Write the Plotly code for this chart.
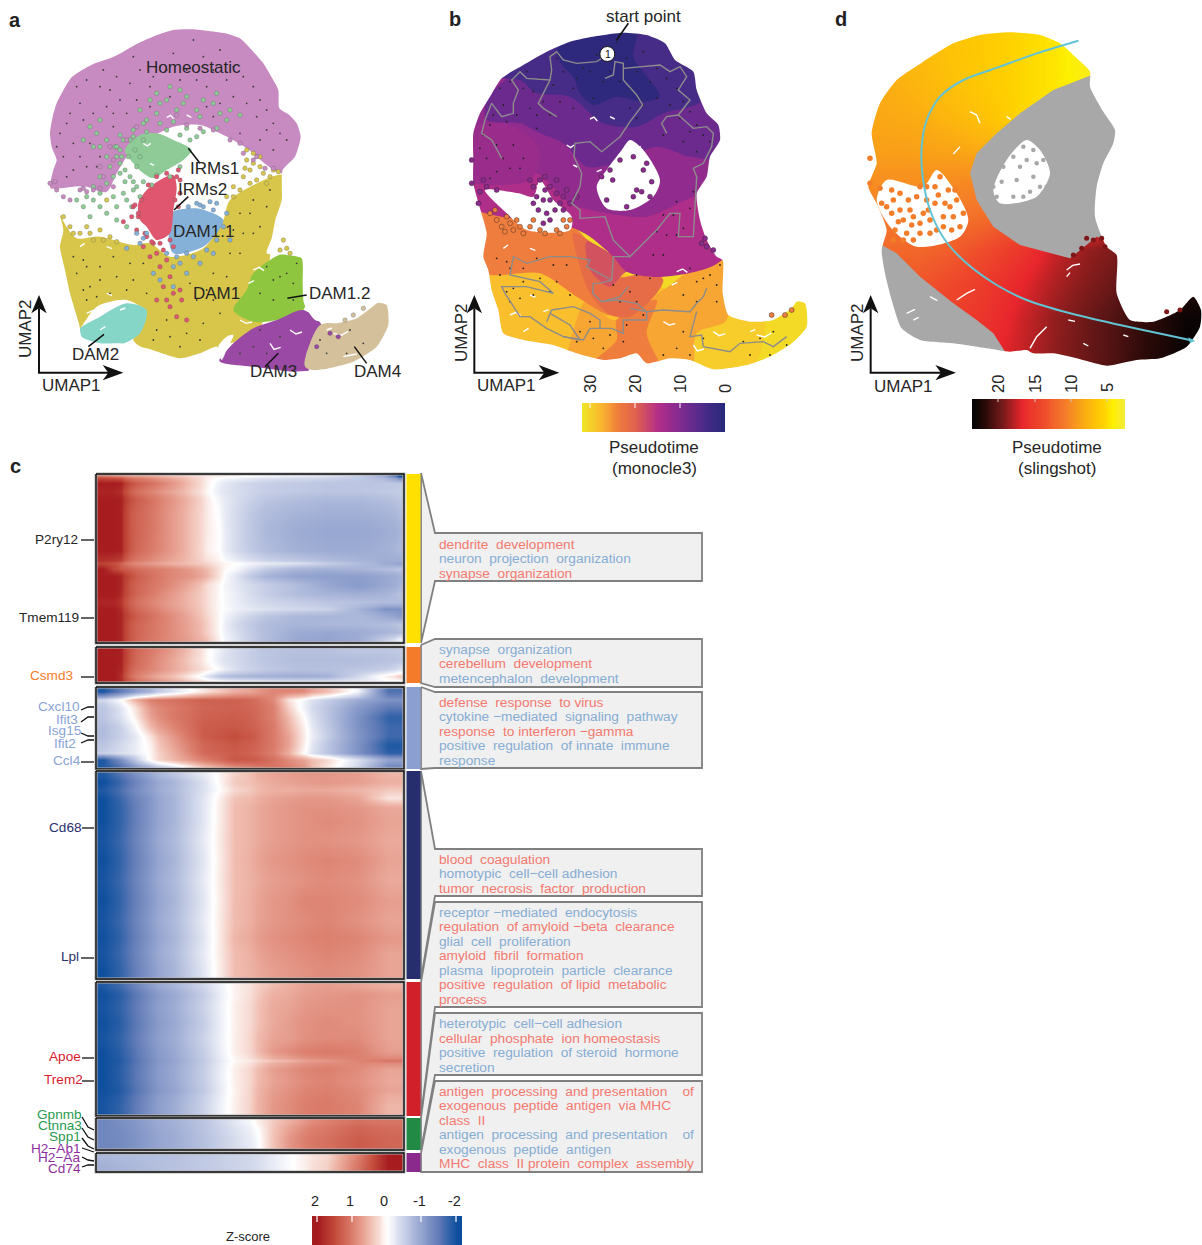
import plotly.graph_objects as go
from plotly.colors import sample_colorscale
import numpy as np

W, H = 1202, 1245
FONT = "Liberation Sans"
INK = "#262626"

# ---------------- UMAP silhouettes (panel units) ----------------
SIL_A = [(150,400),(158,350),(170,310),(195,262),(215,232),(250,208),(285,190),(330,175),(370,155),(405,135),(440,118),(480,102),(520,90),(570,88),(620,92),(675,100),(720,115),(755,150),(790,190),(815,232),(835,270),(838,325),(868,345),(890,370),(902,410),(885,470),(848,510),(845,600),(826,660),(815,715),(800,760),(860,765),(905,775),(908,850),(912,910),(945,960),(1010,970),(1070,955),(1105,930),(1135,908),(1160,915),(1165,975),(1130,1040),(1060,1085),(970,1108),(880,1115),(760,1100),(660,1085),(652,1040),(600,1060),(540,1075),(440,1045),(360,1030),(300,1030),(245,1010),(238,975),(210,880),(195,810),(180,740),(190,690),(170,615),(150,560),(160,510),(170,480),(155,440)]
SIL_B = [(130,400),(150,340),(180,290),(215,235),(280,195),(350,155),(420,125),(500,108),(580,98),(650,105),(705,130),(735,180),(790,215),(800,270),(830,340),(865,375),(870,420),(840,470),(830,530),(800,580),(810,660),(830,720),(860,770),(878,780),(878,880),(895,945),(960,965),(1030,960),(1085,925),(1100,905),(1125,910),(1130,980),(1085,1030),(1020,1070),(950,1095),(850,1108),(780,1080),(720,1075),(650,1090),(620,1060),(570,1075),(520,1080),(440,1060),(370,1035),(280,1020),(220,1000),(205,930),(185,870),(175,810),(160,770),(170,700),(150,625),(130,550),(130,480)]
SIL_D = [(155,400),(180,310),(230,240),(310,185),(400,130),(480,105),(570,97),(660,105),(720,130),(770,175),(810,215),(810,260),(850,335),(885,390),(880,430),(850,490),(830,560),(825,650),(860,740),(890,765),(890,880),(930,960),(1000,965),(1080,930),(1120,890),(1143,930),(1140,980),(1100,1040),(1020,1075),(950,1080),(860,1097),(770,1075),(700,1060),(640,1060),(620,1050),(570,1055),(500,1045),(400,1030),(300,1020),(245,985),(215,900),(195,820),(185,750),(200,690),(170,610),(145,560),(170,490)]

HOLES_A = [[(540,620),(545,530),(570,470),(610,420),(640,410),(670,470),(700,500),(720,540),(690,580),(620,610)],
           [(190,570),(250,620),(310,690),(400,730),(430,690),(390,640),(370,590),(350,540),(320,580),(260,560)],
           [(655,1040),(680,1010),(700,1005),(680,1050),(665,1080)]]
HOLES_B = [[(500,560),(530,510),(575,450),(600,420),(640,450),(690,540),(670,590),(600,630),(530,625)],
           [(165,570),(230,640),(290,690),(420,690),(425,650),(370,600),(330,540),(310,590),(265,580)]]
HOLES_D = [[(520,570),(560,480),(620,420),(660,450),(690,520),(650,590),(540,610)],
           [(200,540),(170,600),(210,680),(290,740),(420,710),(445,660),(410,580),(350,510),(310,560)]]

# ---------------- Panel a clusters ----------------
CL_NAMES = ["Homeostatic","DAM1","IRMs1","DAM1.1","IRMs2","DAM2","DAM1.2","DAM3","DAM4"]
CL_COLORS = ["#c88bc1","#d8c64a","#8ecb97","#85b0d8","#e0566e","#86d6c8","#8fc63f","#9a4aa5","#d4c19c"]
CL_POLYS = [
 [(140,400),(165,300),(210,225),(285,180),(370,145),(440,110),(520,80),(620,85),(725,105),(795,185),(840,265),(845,320),(895,365),(910,410),(890,475),(845,520),(800,495),(740,445),(660,400),(600,375),(520,380),(440,420),(395,450),(350,520),(320,575),(240,560),(140,560)],
 [(160,610),(200,680),(230,715),(300,710),(400,735),(450,730),(510,770),(610,745),(670,660),(690,600),(850,525),(850,600),(825,680),(810,770),(800,900),(770,1010),(690,1030),(650,1045),(540,1085),(440,1050),(400,1020),(440,940),(380,900),(290,920),(235,990),(230,975),(200,880),(170,740),(185,690)],
 [(375,450),(420,405),(470,400),(520,420),(575,450),(550,480),(500,510),(460,535),(430,520),(400,490)],
 [(510,640),(590,625),(670,660),(650,700),(610,740),(520,760),(505,700)],
 [(415,610),(440,570),(480,540),(520,525),(530,560),(520,630),(510,700),(470,720),(440,680),(420,660)],
 [(235,990),(300,950),(380,910),(440,930),(420,1000),(360,1035),(300,1035),(240,1015)],
 [(760,820),(850,760),(912,770),(918,900),(910,930),(830,960),(760,965),(700,930),(740,870)],
 [(760,985),(830,960),(910,930),(970,985),(920,1060),(925,1120),(880,1120),(760,1105),(655,1090),(690,1040)],
 [(960,975),(1010,965),(1070,950),(1130,905),(1165,910),(1170,975),(1135,1040),(1060,1090),(970,1113),(915,1100),(930,1030)],
]
DOTS_A = {
 "#8ecb97":[(500,300),(560,290),(610,300),(640,310),(590,330),(530,330),(470,340),(430,370),(400,390),(370,420),(690,330),(720,345),(660,340),(450,300),(420,330),(320,420),(290,400),(280,440),(270,380),(350,470),(330,500),(360,520),(390,530),(410,560),(370,580),(340,590),(280,600),(250,620),(300,620),(320,640),(350,620),(300,580),(260,590),(270,650),(230,600),(380,600),(395,620),(350,660),(380,680),(550,310),(480,310),(600,350),(540,270),(430,420),(360,450),(300,360),(250,420),(470,280),(510,260),(650,280),
   (345,440),(360,490),(340,530),(375,545),(400,545),(360,405),(390,420),(405,450),(420,470),(385,470),(410,500),(365,470),(375,510),(440,360),(480,370),(520,365),(560,385),(590,410),(610,395),(440,395),(400,410),(455,555),(430,545),(420,590),(400,570),(350,440),(320,470),(300,440),(320,550),(300,530),(280,560),(500,390),(540,405),(570,420),(470,525),(510,530),(540,500),(650,385),(680,360)],
 "#e0566e":[(370,665),(395,650),(410,690),(430,740),(450,770),(480,800),(510,830),(490,860),(520,880),(540,870),(510,920),(530,950),(560,960),(470,900),(500,780),(460,730),(540,540),(400,620),(415,650),(405,615),(525,600),(535,510),(490,750),(470,760),(440,710),(500,900),(545,900),(425,600),(445,555),(470,530),(500,520),(530,530),(435,700),(455,725),(480,730),(510,720),(520,740),(415,640),(540,580),(535,620)],
 "#85b0d8":[(430,715),(440,700),(420,730),(540,790),(580,770),(520,800),(480,840),(610,620),(650,610),(690,720),(560,820),(640,760),(380,745),(460,820),(680,640),(630,605),(590,610),(410,700),(520,860),(600,790),(670,680),(650,720),(620,750),(560,760),(530,770),(500,760),(640,630),(600,615),(565,620)],
 "#d8c64a":[(740,480),(760,460),(780,470),(750,510),(730,530),(790,520),(820,510),(800,550),(700,590),(720,570),(300,690),(260,680),(240,700),(210,680),(330,710),(280,720),(350,725),(850,720),(860,745),(870,760),(840,750),(320,600),(740,450),(760,490),(780,500),(735,505),(770,540),(810,530),(750,550),(835,515),(700,560),(680,590),(270,700),(310,720),(220,700),(190,650)],
 "#c88bc1":[(150,550),(170,570),(210,600),(190,590),(240,570),(165,545),(340,560),(300,565),(330,440),(300,500),(310,530),(260,575),(280,570),(560,375),(600,385),(640,390),(690,420),(720,430),(770,470),(820,505),(340,480),(380,420),(410,380),(530,345),(730,460),(760,480),(795,505),(250,565)],
 "#d4c19c":[(1060,945),(1090,925),(1035,960)],
 "#9a4aa5":[(990,1000),(1015,1010),(950,1040)],
}
# dark specks, panel a units; b reuses them through the axis offset
SPECKS = [(300,260),(350,230),(420,210),(520,160),(610,170),(700,200),(760,260),(800,330),(240,310),(200,370),(280,340),(360,300),(450,260),(540,240),(620,260),(700,290),(770,350),(840,400),(820,450),(220,430),(190,470),(260,500),(300,470),(220,510),(340,380),(410,300),(640,350),(720,400),(780,420),(230,260),(480,200),(660,150),(580,120),(400,170),(310,210),(250,780),(300,800),(340,770),(390,790),(230,820),(270,860),(330,880),(400,840),(440,880),(510,1010),(560,1000),(610,970),(640,900),(680,830),(720,760),(760,700),(800,620),(780,680),(700,690),(640,820),(590,900),(470,990),(500,960),(260,900),(960,1020),(1010,1010),(1050,990),(1090,1030),(1040,1060),(980,1060),(800,1060),(760,1040),(840,1010),(720,1060),(780,990),(860,820),(800,800),(780,880),(820,900),(880,850),
 (260,240),(330,270),(390,250),(460,230),(500,210),(560,210),(640,210),(680,240),(730,230),(780,300),(820,370),(860,420),(180,400),(170,440),(210,340),(250,360),(320,320),(380,340),(450,320),(510,290),(590,240),(660,310),(740,310),(800,390),(270,430),(240,470),(200,530),(290,500),(340,340),(620,320),(260,800),(220,770),(300,840),(350,830),(380,870),(250,870),(290,890),(430,790),(570,850),(620,870),(660,940),(600,1020),(540,1040),(460,1020),(730,700),(690,760),(750,640),(810,570),(760,600),(720,640),(840,830),(880,900),(820,840),(890,790)]
GAPS = [[(430,430),(442,438),(452,430)],[(500,352),(512,346),(522,358)],[(560,345),(574,352)],[(640,440),(652,434)],[(450,490),(462,496)],[(520,510),(535,504)],[(340,555),(352,546)],[(240,740),(254,730)],[(320,740),(336,746)],[(260,940),(278,932),(292,942)],[(320,880),(336,886)],[(760,810),(778,802),(792,812)],[(745,850),(762,842)],[(720,960),(738,970),(756,966)],[(870,990),(888,1002),(906,996)],[(810,1030),(822,1048),(842,1042)],[(1000,1000),(1024,1006),(1044,994)],[(1030,1070),(1050,1066),(1070,1062)],[(980,990),(996,984)],[(300,990),(316,980)],[(360,930),(376,924)]]

# ---------------- Panel b: monocle3 pseudotime regions (painted in order) ----------------
BAND_T = [31, 29.8, 28.5, 26.5, 24, 24, 21.5, 18.5, 14.5, 11.5, 12.5, 8, 4, 1]
BAND_POLYS = [
 [(80,60),(1150,60),(1150,1130),(80,1130)],
 [(790,930),(1000,930),(960,1120),(790,1120)],
 [(80,800),(720,880),(700,1125),(80,1125)],
 [(470,900),(550,960),(700,870),(880,750),(890,960),(800,1000),(780,1125),(400,1125),(420,1030)],
 [(560,960),(680,900),(650,1000),(700,1125),(620,1110),(480,1100),(560,1020)],
 [(90,610),(430,680),(500,770),(520,880),(540,945),(440,890),(330,820),(180,825),(90,790)],
 [(430,700),(500,740),(560,830),(670,815),(700,840),(680,880),(600,950),(540,945),(480,880),(450,800)],
 [(470,725),(560,770),(700,830),(590,815),(540,860),(480,810)],
 [(90,70),(890,70),(885,770),(700,830),(590,815),(550,770),(480,710),(420,680),(90,600)],
 [(90,70),(890,70),(885,560),(790,590),(650,650),(530,640),(420,610),(320,520),(90,520)],
 [(110,390),(220,370),(310,420),(330,470),(300,540),(110,540)],
 [(170,300),(300,190),(890,70),(885,470),(780,470),(680,440),(560,490),(470,500),(400,430),(330,400),(270,370),(170,360)],
 [(200,230),(350,140),(500,80),(745,80),(815,300),(700,340),(620,380),(520,370),(420,290),(320,280),(270,240)],
 [(380,150),(470,95),(620,85),(610,170),(640,215),(690,290),(640,305),(560,290),(490,315),(450,280),(430,230),(400,200)],
]
PATHS_B = [
 [(530,165),(500,185),(440,190),(400,180),(380,155),(360,170),(365,210),(360,240),(340,280),(325,310),(340,325),(380,350)],
 [(360,240),(290,235),(270,215),(245,240),(265,270),(250,310),(250,340),(215,350),(185,310),(165,360),(155,400),(185,420),(215,475)],
 [(525,235),(550,225),(555,185),(580,190),(580,240),(620,285),(638,315),(600,365),(570,410),(515,455),(480,425),(435,430),(432,470),(455,520),(450,560),(425,610),(450,630),(450,655),(525,650),(550,720),(600,770),(630,740),(680,690),(720,640),(750,640),(745,710),(790,710),(800,530),(790,505),(820,490),(845,440),(850,400),(830,380),(790,385),(745,345),(780,300),(745,270),(770,230),(750,200),(720,215),(690,195),(580,205)],
 [(745,345),(710,350),(695,370),(710,400)],
 [(600,770),(550,770),(545,840),(510,850),(490,850),(488,880),(515,905),(570,890),(595,860)],
 [(515,905),(560,900),(620,910),(650,935),(700,930),(780,935),(800,910),(820,890),(830,865)],
 [(600,925),(650,935),(650,960),(580,960),(580,1000),(545,985),(480,985),(460,1020),(400,1010),(350,985),(300,950),(270,950),(225,880),(215,860),(290,860),(370,880),(330,845),(240,825),(250,770),(290,790),(360,770),(420,770),(480,780),(470,800),(545,840)],
 [(350,965),(365,930),(430,920),(480,940),(510,960),(510,985)],
 [(360,940),(420,975),(450,1020),(400,1010)],
 [(800,935),(780,1010),(815,1005),(820,1040),(900,1055),(930,1030),(1000,1025),(1030,1040),(1070,1010)],
]
DOTS_B_PURPLE = [(125,480),(125,550),(150,575),(145,610),(330,540),(345,570),(360,560),(380,540),(400,590),(340,600),(320,590),(350,640),(375,630),(400,630),(325,630),(390,610),(340,670),(540,510),(570,480),(515,530),(548,540),(620,570),(635,575),(665,545),(610,590),(640,510),(825,715),(830,740),(850,750),(815,730),(160,540),(300,540),(420,610),(360,600),(380,580),(345,530),(310,560),(360,660),(310,610),(170,560),(200,570),(410,570),(440,590),(610,470),(650,490),(590,620),(530,600),(660,590)]
DOTS_B_ORANGE = [(200,660),(230,650),(260,660),(300,680),(330,690),(250,690),(280,700),(225,695),(380,690),(410,680),(420,660),(400,660),(1025,945),(1065,945),(1085,930),(215,680),(270,680),(310,660),(345,700),(390,700),(240,670),(180,640),(195,630)]

# ---------------- Panel d: slingshot pseudotime estimated on a coarse grid ----------------
D_X_EDGES = [130,250,350,450,550,650,750,850,950,1050,1150]
D_Y_EDGES = [85,200,300,400,500,600,700,800,900,1000,1120]
D_TIME = [
 [7.6,7.0,6.4,5.8,5.2,4.5,3.2,2.6,2.4,2.4],
 [8.0,7.4,6.6,5.9,5.2,4.5,3.4,2.6,2.4,2.4],
 [8.3,8.0,7.3,6.4,5.2,4.6,4.0,3.0,2.6,2.4],
 [8.8,8.7,8.5,8.0,7.0,6.0,5.0,4.0,3.0,3.0],
 [9.8,9.8,10.0,10.3,10.5,10.5,10.5,10.5,11,11],
 [11.0,11.0,11.2,11.8,13.0,14.5,15.5,17,18,19],
 [12.0,12.2,12.8,14.0,15.5,17.5,18.8,19.6,20.5,21],
 [13.0,13.3,14.2,15.3,16.8,18.2,19.3,20.3,21.0,22.0],
 [14.0,14.5,15.0,15.8,17.4,18.8,20.0,21.0,22.0,23.5],
 [15.0,15.2,15.6,16.5,17.6,18.9,20.1,21.1,22.3,23.6],
]
GRAY_D = [
 [(815,225),(700,270),(600,340),(530,400),(470,460),(450,520),(470,600),(520,680),(600,735),(750,775),(830,710),(900,740),(900,300),(830,200)],
 [(140,735),(185,735),(230,760),(300,830),(400,910),(470,960),(520,1000),(565,1070),(400,1100),(140,1100)],
]
CURVE_D = [(775,122),(650,160),(540,200),(430,240),(360,290),(320,360),(305,440),(308,530),(330,630),(375,720),(440,790),(530,855),(620,900),(750,940),(900,975),(1040,1005),(1120,1022)]
DOTS_D_ORANGE = [(150,475),(150,550),(180,565),(185,610),(215,640),(240,630),(265,600),(290,590),(250,660),(280,650),(310,640),(225,690),(260,700),(300,700),(330,660),(370,650),(345,610),(390,620),(410,600),(345,560),(360,530),(385,570),(430,640),(420,680),(395,690),(350,690),(220,600),(270,630),(300,560),(320,600),(240,580),(215,570),(200,620),(235,665),(275,675),(300,670),(330,700),(370,680),(375,610),(400,650),(355,585),(320,560),(280,720),(250,720),(220,720),(325,630),(405,570)]
DOTS_D_GRAY = [(550,500),(580,470),(610,440),(640,450),(520,560),(530,590),(590,540),(640,530),(670,480),(610,590),(700,520),(560,620),(590,430),(620,480),(650,490),(580,590),(545,545),(680,560),(660,560),(630,575),(600,500)]
DOTS_D_DARK = [(800,715),(820,720),(845,715),(855,740),(785,745),(760,765),(1040,935),(1080,930)]
GAPS_D = [[(740,810),(758,796),(780,792)],[(740,830),(750,818)],[(630,1045),(650,1010),(680,980)],[(745,960),(765,964)],[(410,900),(440,880),(465,868)],[(910,1005),(925,1010)],[(790,1030),(805,1038)],[(450,335),(470,345),(480,370)],[(560,350),(572,358)],[(420,440),(400,462)],[(260,940),(285,928)],[(330,890),(352,902)],[(280,960),(296,952)]]

# ---------------- Panel c: heatmap blocks ----------------
COL_DOWN = [0,.04,.07,.09,.13,.2,.28,.34,.38,.42,.5,.6,.7,.8,.9,.97,1]
COL_UP = [0,.05,.1,.15,.2,.3,.4,.5,.55,.6,.65,.7,.8,.9,1]
BLOCK_X = (96, 404)

B1_Y = [474,478,488,495,505,520,540,560,566,572,580,590,598,606,612,620,628,636,643]
B1 = [
 [1.1,1.0,.9,.8,.7,.5,.3,.15,.1,.05,-.1,-.2,-.3,-.5,-.9,-2.0],
 [2.0,2.0,1.95,1.5,1.2,.85,.45,.1,-.15,-.35,-.5,-.55,-.6,-.6,-.6,-.55],
 [1.9,1.9,1.8,1.3,1.0,.7,.35,.05,-.2,-.35,-.5,-.55,-.6,-.6,-.55,-.5],
 [2.0,2.0,1.95,1.5,1.2,.85,.5,.15,-.1,-.35,-.6,-.7,-.75,-.75,-.7,-.6],
 [2.0,2.0,1.95,1.4,1.15,.8,.45,.15,-.05,-.4,-.7,-.8,-.85,-.85,-.8,-.7],
 [2.0,2.0,1.95,1.4,1.15,.8,.45,.15,0,-.4,-.75,-.9,-.95,-.95,-.9,-.8],
 [2.0,2.0,1.95,1.4,1.1,.8,.45,.12,0,-.4,-.7,-.85,-.9,-.9,-.85,-.75],
 [1.6,1.5,1.3,1.0,.8,.6,.45,.3,.15,0,-.2,-.3,-.5,-.7,-.9,-1.0],
 [2.0,1.6,1.4,1.3,1.1,.95,.75,.5,.2,-.1,-.55,-.8,-.85,-.8,-.7,-.6],
 [2.0,2.0,1.9,1.5,1.2,.95,.8,.55,.2,-.3,-.8,-1.0,-1.05,-1.05,-.95,-.85],
 [2.0,2.0,1.9,1.4,1.15,.9,.6,.25,.05,-.25,-.5,-.7,-.95,-1.1,-.95,-.8],
 [2.0,2.0,1.85,1.4,1.1,.8,.5,.25,.05,-.2,-.5,-.7,-.8,-.85,-.8,-.65],
 [1.9,1.9,1.7,1.3,1.0,.75,.5,.25,.05,-.2,-.4,-.5,-.6,-.65,-.7,-.7],
 [2.0,2.0,1.85,1.4,1.1,.8,.55,.25,.05,-.15,-.3,-.4,-.45,-.8,-1.2,-1.2],
 [2.0,2.0,1.9,1.5,1.2,.9,.6,.3,.05,-.3,-.6,-.75,-.8,-.75,-.9,-1.1],
 [2.0,2.0,1.9,1.4,1.15,.9,.65,.35,.05,-.4,-.7,-.8,-.75,-.75,-.7,-.6],
 [2.0,2.0,1.9,1.4,1.15,.9,.65,.35,.05,-.35,-.7,-.9,-.95,-.9,-.8,-.7],
 [2.0,2.0,1.9,1.4,1.1,.9,.7,.45,.1,-.3,-.7,-.95,-1.0,-.9,-.5,-.1],
]
B2_Y = [647,655,665,673,679,683]
B2 = [
 [2.0,2.0,1.95,1.4,1.1,.8,.4,.05,-.15,-.4,-.6,-.65,-.65,-.6,-.6,-.55],
 [2.0,2.0,1.95,1.4,1.05,.7,.35,.05,-.2,-.4,-.6,-.7,-.7,-.7,-.65,-.6],
 [2.0,2.0,1.9,1.3,1.0,.7,.4,.15,-.05,-.35,-.55,-.65,-.65,-.6,-.5,-.3],
 [2.0,2.0,1.8,1.2,.8,.5,.1,-.3,-.6,-.75,-.85,-.9,-.85,-.4,.1,.4],
 [2.0,2.0,1.9,1.4,1.0,.7,.4,.2,.05,-.1,-.2,-.25,-.25,-.2,-.1,-.05],
]
B3_Y = [687,696,703,712,722,732,740,750,756,763,769]
B3 = [
 [-1.9,-1.5,-1.1,-.8,-.3,.2,.6,.8,.95,.95,.9,.5,-.1,-1.6],
 [-.4,-.05,.6,1.0,1.15,1.3,1.3,1.15,.9,.2,-.1,-.5,-.9,-1.2],
 [-.6,-.3,.2,.8,1.05,1.25,1.3,1.2,1.0,.35,-.15,-.6,-1.1,-1.5],
 [-.6,-.35,.1,.7,1.05,1.3,1.35,1.2,1.0,.5,.0,-.6,-1.2,-1.8],
 [-.7,-.5,-.1,.5,.95,1.35,1.4,1.25,1.05,.6,.1,-.55,-1.2,-1.7],
 [-.7,-.5,-.25,.2,.8,1.35,1.5,1.3,1.05,.7,.15,-.5,-1.15,-1.7],
 [-.6,-.4,-.2,.1,.7,1.25,1.4,1.25,1.05,.7,.1,-.6,-1.2,-1.9],
 [-.5,-.35,-.2,.05,.6,1.2,1.35,1.2,1.0,.6,.0,-.6,-1.2,-1.8],
 [-1.9,-1.3,-.6,.05,.55,1.0,1.4,1.35,1.15,.9,.7,.3,-.3,-1.0],
 [-1.9,-1.6,-1.1,-.7,-.2,.5,.95,1.1,1.1,1.0,.8,.2,-.4,-1.3],
]
B4_Y = [771,778,786,794,802,812,830,850,870,890,910,930,945,960,979]
B4 = [
 [-1.9,-1.6,-1.25,-.95,-.6,-.2,.35,.6,.7,.75,.8,.8,.75,.55],
 [-2.0,-1.75,-1.4,-1.1,-.8,-.3,.4,.55,.65,.7,.75,.8,.75,.6],
 [-1.9,-1.65,-1.3,-1.05,-.75,-.3,.3,.5,.6,.6,.65,.65,.55,.4],
 [-2.0,-1.75,-1.4,-1.15,-.8,-.25,.45,.6,.7,.75,.8,.8,.7,.2],
 [-2.0,-1.8,-1.45,-1.15,-.8,-.25,.5,.65,.75,.8,.85,.85,.8,.65],
 [-2.0,-1.8,-1.45,-1.15,-.8,-.25,.5,.65,.75,.8,.85,.9,.85,.7],
 [-1.95,-1.75,-1.4,-1.1,-.75,-.2,.5,.65,.75,.8,.85,.85,.8,.65],
 [-2.0,-1.8,-1.45,-1.15,-.8,-.25,.5,.7,.8,.85,.9,.95,.9,.7],
 [-1.95,-1.75,-1.4,-1.1,-.75,-.2,.5,.65,.75,.8,.85,.9,.85,.65],
 [-2.0,-1.8,-1.45,-1.15,-.8,-.25,.5,.7,.8,.85,.95,.95,.9,.75],
 [-1.95,-1.75,-1.4,-1.1,-.75,-.2,.5,.7,.8,.85,.9,.95,.85,.7],
 [-2.0,-1.8,-1.45,-1.15,-.8,-.25,.55,.75,.85,.9,.95,1.0,.95,.8],
 [-1.95,-1.75,-1.4,-1.1,-.75,-.2,.5,.7,.8,.85,.9,.95,.9,.7],
 [-2.0,-1.8,-1.45,-1.15,-.8,-.25,.5,.65,.75,.8,.85,.9,.85,.7],
]
B5_Y = [982,990,1000,1015,1030,1045,1058,1063,1075,1085,1095,1116]
B5 = [
 [-1.9,-1.7,-1.4,-1.1,-.8,-.4,.1,.35,.5,.6,.7,.75,.7,.6],
 [-2.0,-1.85,-1.55,-1.25,-.95,-.5,.1,.4,.6,.65,.75,.8,.85,.75],
 [-1.95,-1.8,-1.5,-1.2,-.9,-.45,.12,.45,.65,.7,.8,.85,.85,.7],
 [-2.0,-1.85,-1.55,-1.25,-.95,-.5,.12,.45,.65,.75,.85,.9,.85,.7],
 [-1.95,-1.8,-1.5,-1.2,-.9,-.45,.12,.5,.7,.75,.85,.9,.9,.7],
 [-2.0,-1.85,-1.55,-1.25,-.95,-.5,.12,.5,.8,.9,1.0,1.05,1.0,.75],
 [-2.0,-1.9,-1.6,-1.3,-1.0,-.55,.05,.25,.45,.55,.7,.8,.95,1.1],
 [-2.0,-1.85,-1.55,-1.25,-.95,-.5,.12,.5,.75,.85,.95,1.0,.9,.7],
 [-2.0,-1.85,-1.55,-1.25,-.95,-.5,.12,.5,.7,.8,.9,.95,.85,.65],
 [-2.0,-1.9,-1.6,-1.3,-1.0,-.55,.1,.55,.75,.85,.95,1.0,.9,.7],
 [-1.95,-1.8,-1.5,-1.2,-.9,-.45,.12,.55,.8,.9,1.0,1.05,.95,.55],
]
B6_Y = [1118,1127,1150]
B6 = [
 [-1.35,-1.25,-1.15,-1.0,-.85,-.6,-.25,.1,.4,.6,.8,1.0,1.15,1.1],
 [-1.35,-1.3,-1.2,-1.05,-.9,-.65,-.35,-.05,.45,.8,1.0,1.15,1.35,1.25],
]
B7_Y = [1153,1161,1172]
B7 = [
 [-.75,-.72,-.7,-.68,-.65,-.55,-.45,-.35,-.2,-.05,.12,.3,1.0,2.0],
 [-.85,-.8,-.75,-.7,-.65,-.55,-.45,-.35,-.2,-.05,.12,.35,1.1,2.0],
]
BAR_COLORS = ["#ffe000","#f47b2a","#8b9fd0","#262e6d","#d2202a","#218a44","#8a2a8c"]

GENES = [("P2ry12",78,539,"#262626",[(81,540),(94,540)]),
 ("Tmem119",79,617,"#262626",[(81,618),(94,618)]),
 ("Csmd3",73,675,"#f47b2a",[(81,677),(94,677)]),
 ("Cxcl10",80,706,"#8ba3d6",[(81,710),(88,707),(94,707)]),
 ("Ifit3",78,719,"#8ba3d6",[(81,722),(88,717),(94,717)]),
 ("Isg15",81,730,"#8ba3d6",[(81,733),(88,736),(94,736)]),
 ("Ifit2",76,743,"#8ba3d6",[(81,743),(88,740),(94,740)]),
 ("Ccl4",81,760,"#8ba3d6",[(81,762),(94,762)]),
 ("Cd68",82,827,"#2a2f6e",[(82,828),(94,828)]),
 ("Lpl",79,956,"#2a2f6e",[(81,958),(94,958)]),
 ("Apoe",81,1056,"#d8202e",[(82,1058),(94,1058)]),
 ("Trem2",83,1079,"#d8202e",[(82,1081),(94,1081)]),
 ("Gpnmb",82,1114,"#2a9a50",[(82,1117),(88,1127),(94,1130)]),
 ("Ctnna3",82,1125,"#2a9a50",[(82,1128),(88,1137),(94,1140)]),
 ("Spp1",81,1136,"#2a9a50",[(82,1138),(88,1146),(94,1149)]),
 ("H2\u2212Ab1",81,1148,"#8e2f9e",[(82,1148),(88,1150),(94,1152)]),
 ("H2\u2212Aa",80,1157,"#8e2f9e",[(82,1157),(88,1160),(94,1161)]),
 ("Cd74",81,1168,"#8e2f9e",[(82,1167),(88,1165),(94,1165)])]

RED, BLUE = "#f4796f", "#86add4"
BOXES = [
 ([(421,473),(435,533),(702,533),(702,581),(435,581),(421,643)],
  [("dendrite  development",RED,544),("neuron  projection  organization",BLUE,558.5),("synapse  organization",RED,573)]),
 ([(421,645),(435,639),(702,639),(702,687),(435,687),(421,683)],
  [("synapse  organization",BLUE,649),("cerebellum  development",RED,663.5),("metencephalon  development",BLUE,678)]),
 ([(421,687),(435,692),(702,692),(702,768),(435,768),(421,769)],
  [("defense  response  to virus",RED,702),("cytokine \u2212mediated  signaling  pathway",BLUE,716.5),("response  to interferon \u2212gamma",RED,731),("positive  regulation  of innate  immune",BLUE,745.5),("response",BLUE,760)]),
 ([(421,771),(435,849),(702,849),(702,896),(435,896),(421,979)],
  [("blood  coagulation",RED,859),("homotypic  cell\u2212cell adhesion",BLUE,873.5),("tumor  necrosis  factor  production",RED,888)]),
 ([(421,982),(435,902),(702,902),(702,1007),(435,1007),(421,1115)],
  [("receptor \u2212mediated  endocytosis",BLUE,912),("regulation  of amyloid \u2212beta  clearance",RED,926.5),("glial  cell  proliferation",BLUE,941),("amyloid  fibril  formation",RED,955.5),("plasma  lipoprotein  particle  clearance",BLUE,970),("positive  regulation  of lipid  metabolic",RED,984.5),("process",RED,999)]),
 ([(421,1118),(435,1013),(702,1013),(702,1075),(435,1075),(421,1150)],
  [("heterotypic  cell\u2212cell adhesion",BLUE,1023.5),("cellular  phosphate  ion homeostasis",RED,1038),("positive  regulation  of steroid  hormone",BLUE,1052.5),("secretion",BLUE,1067)]),
 ([(421,1153),(435,1081),(702,1081),(702,1172),(421,1172)],
  [("antigen  processing  and presentation    of",RED,1091),("exogenous  peptide  antigen  via MHC",RED,1105.5),("class  II",RED,1120),("antigen  processing  and presentation    of",BLUE,1134.5),("exogenous  peptide  antigen",BLUE,1149),("MHC  class  II protein  complex  assembly",RED,1163.5)]),
]

HEAT_SCALE = [(-2.2,"#0a4c9b"),(-2,"#0f509e"),(-1.5,"#5f7ab6"),(-1,"#93a3cf"),(-.5,"#c6cee6"),(0,"#ffffff"),(.5,"#f0bcaf"),(1,"#dc7f6e"),(1.5,"#c44d3d"),(2,"#a61c1f"),(2.2,"#a01a1c")]
MONO_SCALE = [(0,"#26297a"),(5,"#4e2b8a"),(10,"#822a90"),(15,"#b32e88"),(20,"#e0614f"),(24,"#ef7d3d"),(26.5,"#f7a533"),(29,"#f9c52c"),(32,"#efe423")]
SLING_SCALE = [(2.4,"#f5e93a"),(4,"#fdf000"),(5.5,"#ffcf00"),(7.6,"#fcb40f"),(11,"#f4792a"),(14,"#ee4a2b"),(16.9,"#e8262c"),(19,"#8d1d1d"),(20.5,"#5c1515"),(22,"#2a0a08"),(23.75,"#050303")]

def norm(scale):
    lo, hi = scale[0][0], scale[-1][0]
    return [[(v-lo)/(hi-lo), c] for v, c in scale]
def color_of(scale, v):
    lo, hi = scale[0][0], scale[-1][0]
    return sample_colorscale(norm(scale), [(v-lo)/(hi-lo)])[0]

fig = go.Figure()
AX = dict(px=("x","y"), a=("x2","y2"), b=("x3","y3"), d=("x4","y4"), top=("x5","y5"))

def xs(p): return [q[0] for q in p]
def ys(p): return [q[1] for q in p]
def poly(panel, p, fill, line=None, lw=0, smooth=False):
    ln = dict(color=line or fill, width=lw)
    if smooth:
        ln.update(shape="spline", smoothing=0.8)
    fig.add_trace(go.Scatter(x=xs(p)+[p[0][0]], y=ys(p)+[p[0][1]], mode="lines", fill="toself", fillcolor=fill,
        line=ln, xaxis=AX[panel][0], yaxis=AX[panel][1], hoverinfo="skip", showlegend=False))
def line(panel, p, color, lw, shape=None):
    fig.add_trace(go.Scatter(x=xs(p), y=ys(p), mode="lines", line=dict(color=color, width=lw, **({"shape":shape,"smoothing":0.8} if shape else {})),
        xaxis=AX[panel][0], yaxis=AX[panel][1], hoverinfo="skip", showlegend=False))
def multiline(panel, segs, color, lw):
    X, Y = [], []
    for s in segs:
        X += xs(s)+[None]; Y += ys(s)+[None]
    fig.add_trace(go.Scatter(x=X, y=Y, mode="lines", line=dict(color=color, width=lw), xaxis=AX[panel][0], yaxis=AX[panel][1], hoverinfo="skip", showlegend=False))
def dots(panel, p, color, size=5, edge="#333333", ew=0.5):
    fig.add_trace(go.Scatter(x=xs(p), y=ys(p), mode="markers", marker=dict(color=color, size=size, line=dict(color=edge, width=ew)),
        xaxis=AX[panel][0], yaxis=AX[panel][1], hoverinfo="skip", showlegend=False))
def mask(panel, rect, sil):
    x0,y0,x1,y1 = rect
    X = [x0,x0,x1,x1,x0,None]+xs(sil)+[sil[0][0]]
    Y = [y0,y1,y1,y0,y0,None]+ys(sil)+[sil[0][1]]
    fig.add_trace(go.Scatter(x=X, y=Y, mode="lines", fill="toself", fillcolor="white", line=dict(color="white", width=0, shape="spline", smoothing=0.6),
        xaxis=AX[panel][0], yaxis=AX[panel][1], hoverinfo="skip", showlegend=False))
def arrows(panel, ox, oy, hx, vy):
    line(panel, [(ox,vy+40),(ox,oy),(hx-40,oy)], "#111111", 2)
    poly(panel, [(hx,oy),(hx-62,oy-23),(hx-45,oy),(hx-62,oy+23)], "#111111")
    poly(panel, [(ox,vy),(ox-23,vy+55),(ox,vy+40),(ox+23,vy+55)], "#111111")

ann = []
def text(x, y, s, size=14, color=INK, anchor="center", angle=0, bold=False):
    ann.append(dict(x=x, y=y, xref="x", yref="y", text=("<b>%s</b>" % s) if bold else s, showarrow=False, xanchor=anchor, yanchor="middle",
        font=dict(family=FONT, size=size, color=color), textangle=angle, borderpad=0, borderwidth=0))

# ---- Panel c (pixel frame) ----
BLOCKS = [(B1,B1_Y,COL_DOWN),(B2,B2_Y,COL_DOWN),(B3,B3_Y,COL_UP),(B4,B4_Y,COL_UP),(B5,B5_Y,COL_UP),(B6,B6_Y,COL_UP),(B7,B7_Y,COL_UP)]
BLOCK_X0, BLOCK_X1 = BLOCK_X
for (box, lines_) in BOXES:
    poly("px", box, "#f0f0f0", "#808080", 1.8)
for (z, ye, ce), bar in zip(BLOCKS, BAR_COLORS):
    xe = [BLOCK_X0 + f*(BLOCK_X1-BLOCK_X0) for f in ce]
    fig.add_trace(go.Heatmap(z=z, x=xe, y=ye, zmin=-2.2, zmax=2.2, colorscale=norm(HEAT_SCALE), zsmooth="best", showscale=False,
                             xaxis="x", yaxis="y", hoverinfo="skip"))
    r = [(BLOCK_X0,ye[0]),(BLOCK_X1,ye[0]),(BLOCK_X1,ye[-1]),(BLOCK_X0,ye[-1]),(BLOCK_X0,ye[0])]
    line("px", r, "#b0b0b0", 3)
    line("px", r, "#111111", 1.4)
    poly("px", [(406.5,ye[0]),(420.5,ye[0]),(420.5,ye[-1]),(406.5,ye[-1])], bar)
for name, rx, ry, col, seg in GENES:
    text(rx, ry, name, 13.6, col, "right")
    line("px", seg, "#111111", 1.3)
for box, lines_ in BOXES:
    for s, c, yy in lines_:
        text(439, yy, s, 13.7, c, "left")

# z-score legend
zvals = np.linspace(2.15, -2.15, 80)
fig.add_trace(go.Heatmap(z=[list(zvals)], x=list(np.linspace(312,462,81)), y=[1216,1245], zmin=-2.2, zmax=2.2, colorscale=norm(HEAT_SCALE),
                         zsmooth="best", showscale=False, xaxis="x", yaxis="y", hoverinfo="skip"))
Z_TICKS = [("2",317),("1",352),("0",384),("-1",421),("-2",456)]
for s, x in Z_TICKS:
    text(x-2 if s!="0" else x, 1201, s, 14.5)
    line("px", [(x,1216),(x,1222)], "white", 1.2)
text(248, 1236, "Z-score", 13)

text(654, 447, "Pseudotime", 17); text(654, 468, "(monocle3)", 17)
text(1057, 447, "Pseudotime", 17); text(1057, 468, "(slingshot)", 17)

# panel letters
text(15, 20, "a", 20, "#222222", bold=True); text(455, 19, "b", 20, "#222222", bold=True)
text(841, 19, "d", 20, "#222222", bold=True); text(15, 466, "c", 20, "#222222", bold=True)

# ---- Panel a ----
for c, p in zip(CL_COLORS, CL_POLYS):
    poly("a", p, c, smooth=True)
for h in HOLES_A:
    poly("a", h, "white", smooth=True)
mask("a", (110,50,1210,1160), SIL_A)
multiline("a", GAPS, "white", 1.4)
dots("a", SPECKS, "#3a3a3a", 1.8, "#3a3a3a", 0)
for c, p in DOTS_A.items():
    dots("a", p, c, 4.5, "#555555", 0.3)
arrows("a", 117, 1118, 370, 885)
multiline("a", [[(565,445),(600,490)],[(522,630),(565,590)],[(862,895),(920,885)],[(265,1040),(312,1003)],[(795,1100),(835,1060)],[(1100,1090),(1063,1040)]], "#111111", 1.5)
for s, x, y in [("Homeostatic",193,67),("IRMs1",214,168),("IRMs2",202,189),("DAM1.1",203,231),("DAM1",216,293),("DAM1.2",339,293),("DAM2",95,354),("DAM3",273,371),("DAM4",377,371)]:
    text(x, y, s, 17)
text(71, 385, "UMAP1", 17); text(25, 329, "UMAP2", 17, INK, "center", -90)

# ---- Panel b ----
poly("b", BAND_POLYS[0], color_of(MONO_SCALE, BAND_T[0]))
for t, p in list(zip(BAND_T, BAND_POLYS))[1:]:
    poly("b", p, color_of(MONO_SCALE, t), smooth=True)
for h in HOLES_B:
    poly("b", h, "white", smooth=True)
mask("b", (60,50,1170,1160), SIL_B)
SHIFT_B = [(x-20, y+5) for x, y in SPECKS]
multiline("b", [[(x-20,y+5) for x,y in s] for s in GAPS], "white", 1.4)
dots("b", SHIFT_B, "#222222", 1.8, "#222222", 0)
dots("b", DOTS_B_PURPLE, color_of(MONO_SCALE, 11), 5, "#222222", 0.4)
dots("b", DOTS_B_ORANGE, color_of(MONO_SCALE, 24), 5, "#222222", 0.4)
multiline("b", PATHS_B, "#8c8c8c", 1.4)
dots("b", [(532,162)], "white", 15, "#111111", 1)
line("b", [(595,70),(560,120)], "#111111", 1.6)
arrows("b", 133, 1118, 388, 885)
text(607.5, 54, "1", 10.5, "#111111"); text(643, 16, "start point", 17)
text(506, 385, "UMAP1", 17); text(461, 333, "UMAP2", 17, INK, "center", -90)

# ---- Panel d ----
fig.add_trace(go.Heatmap(z=D_TIME, x=D_X_EDGES, y=D_Y_EDGES, zmin=2.4, zmax=23.75, colorscale=norm(SLING_SCALE), zsmooth="best", showscale=False,
                         xaxis="x4", yaxis="y4", hoverinfo="skip"))
for g in GRAY_D:
    poly("d", g, "#a8a8a8")
for h in HOLES_D:
    poly("d", h, "white", smooth=True)
mask("d", (100,50,1210,1160), SIL_D)
multiline("d", GAPS_D, "white", 1.4)
dots("d", DOTS_D_ORANGE, "#f47d2a", 5.5, "#f47d2a", 0)
dots("d", DOTS_D_GRAY, "#a8a8a8", 4.5, "#a8a8a8", 0)
dots("d", DOTS_D_DARK, "#7d1717", 5, "#7d1717", 0)
line("d", CURVE_D, "#62c4d3", 2, "spline")
poly("d", [(1125,1022),(1105,1012),(1110,1030)], "#62c4d3")
arrows("d", 152, 1118, 408, 885)
text(903, 386, "UMAP1", 17); text(857, 333, "UMAP2", 17, INK, "center", -90)

# ---- Pseudotime legends: drawn last so the masks above never touch them ----
tb = np.linspace(31.8, 0, 80)
fig.add_trace(go.Heatmap(z=[list(tb)], x=list(np.linspace(582,725,81)), y=[403,432], zmin=0, zmax=32, colorscale=norm(MONO_SCALE), zsmooth="best",
                         showscale=False, xaxis="x5", yaxis="y5", hoverinfo="skip"))
for s, x, yy in [("30",590,384),("20",635,384),("10",680,384),("0",725,389)]:
    text(x, yy, s, 16.5, INK, "center", -90)
    if s != "0":
        line("top", [(x,403),(x,408)], "white", 1)
td = np.linspace(23.75, 2.4, 80)
fig.add_trace(go.Heatmap(z=[list(td)], x=list(np.linspace(972,1125,81)), y=[399,429], zmin=2.4, zmax=23.75, colorscale=norm(SLING_SCALE), zsmooth="best",
                         showscale=False, xaxis="x5", yaxis="y5", hoverinfo="skip"))
for s, x, yy in [("20",998,384),("15",1035,384),("10",1071,384),("5",1107,388)]:
    text(x, yy, s, 16.5, INK, "center", -90)
    line("top", [(x,399),(x,402)], "#cccccc", 1)

def ax(rng):
    return dict(range=rng, visible=False, domain=[0,1], fixedrange=True)
lay = dict(width=W, height=H, margin=dict(l=0,r=0,t=0,b=0), paper_bgcolor="white", plot_bgcolor="rgba(0,0,0,0)", showlegend=False, annotations=ann,
    xaxis=dict(ax([0,W]), anchor="y"), yaxis=dict(ax([H,0]), anchor="x"),
    xaxis2=dict(ax([0,3*W]), anchor="y2"), yaxis2=dict(ax([3*H,0]), anchor="x2"),
    xaxis3=dict(ax([-3*430,3*(W-430)]), anchor="y3"), yaxis3=dict(ax([3*H,0]), anchor="x3"),
    xaxis4=dict(ax([-3*820,3*(W-820)]), anchor="y4"), yaxis4=dict(ax([3*H,0]), anchor="x4"),
    xaxis5=dict(ax([0,W]), anchor="y5"), yaxis5=dict(ax([H,0]), anchor="x5"))
fig.update_layout(**lay)
fig.write_html("out.html", config={"displayModeBar": False}, post_script="document.body.style.margin='0';document.body.style.overflow='hidden';")
